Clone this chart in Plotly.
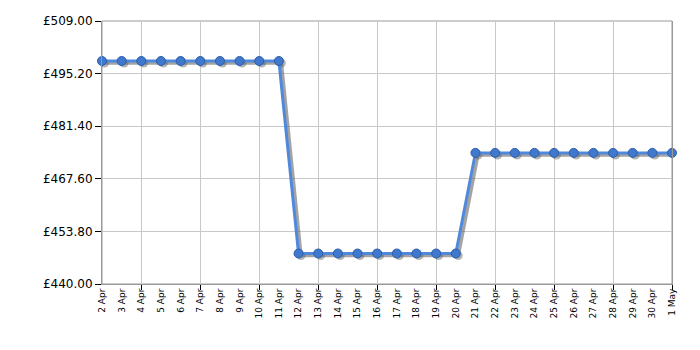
import plotly.graph_objects as go
import pandas as pd

dates = pd.date_range("2024-04-02", "2024-05-01", freq="D")
prices = [498.50] * 10 + [448.00] * 9 + [474.40] * 11
tick_labels = [f"{d.day} {d.strftime('%b')}" for d in dates]
y_ticks = [440.00, 453.80, 467.60, 481.40, 495.20, 509.00]

grid_dates = dates[2::3]

fig = go.Figure()
# shadow
fig.add_trace(go.Scatter(
    x=dates + pd.Timedelta(hours=3), y=[p - 0.55 for p in prices],
    mode="lines+markers", line=dict(color="rgba(90,90,90,0.55)", width=3.5),
    marker=dict(size=9, color="rgba(90,90,90,0.45)", line=dict(width=0)),
    hoverinfo="skip", cliponaxis=False, showlegend=False))
fig.add_trace(go.Scatter(
    x=dates, y=prices, mode="lines+markers",
    line=dict(color="#5089dc", width=3),
    marker=dict(size=9, color="#3f78cc", line=dict(color="#2d5ea8", width=1)),
    cliponaxis=False, showlegend=False))
# dummy for grid axis
fig.add_trace(go.Scatter(x=[dates[0], dates[-1]], y=[440, 440], xaxis="x2",
                         mode="markers", marker=dict(opacity=0), hoverinfo="skip",
                         showlegend=False))

rng = [dates[0], dates[-1]]
fig.update_layout(
    width=700, height=350,
    margin=dict(l=102, r=28, t=21, b=66),
    paper_bgcolor="white", plot_bgcolor="white",
    font=dict(family="DejaVu Sans, Verdana, sans-serif", color="#000"),
    xaxis=dict(range=rng, tickvals=list(dates), ticktext=tick_labels,
               tickangle=-90, tickfont=dict(size=9), showgrid=False,
               ticks="", showline=True, linecolor="#999", linewidth=1,
               mirror=False, zeroline=False),
    xaxis2=dict(range=rng, overlaying="x", side="bottom", tickvals=list(grid_dates),
                showticklabels=False, showgrid=True, gridcolor="#c8c8c8",
                ticks="outside", ticklen=5, tickcolor="#000", zeroline=False),
    yaxis=dict(range=[440, 509], tickvals=y_ticks,
               ticktext=[f"£{v:.2f}" for v in y_ticks],
               tickfont=dict(size=12), showgrid=True, gridcolor="#c8c8c8",
               ticks="outside", ticklen=6, tickcolor="#000",
               showline=True, linecolor="#999", linewidth=1, mirror=True,
               zeroline=False),
)
fig.update_layout(shapes=[dict(type="rect", xref="paper", yref="paper", x0=0, x1=1, y0=0, y1=1,
                               line=dict(color="#999", width=1), layer="below")])
fig.write_html("out.html")
